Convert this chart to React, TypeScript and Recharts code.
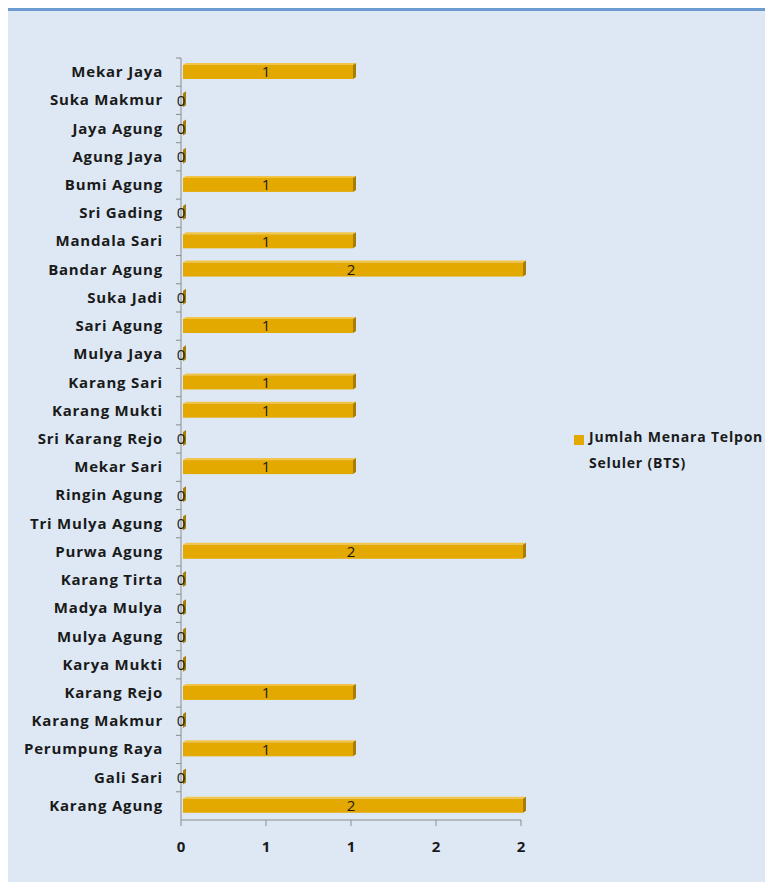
import { BarChart, Bar, XAxis, YAxis, LabelList } from "recharts";

const desa = [
  "Mekar Jaya", "Suka Makmur", "Jaya Agung", "Agung Jaya", "Bumi Agung", "Sri Gading",
  "Mandala Sari", "Bandar Agung", "Suka Jadi", "Sari Agung", "Mulya Jaya", "Karang Sari",
  "Karang Mukti", "Sri Karang Rejo", "Mekar Sari", "Ringin Agung", "Tri Mulya Agung",
  "Purwa Agung", "Karang  Tirta", "Madya Mulya", "Mulya Agung", "Karya Mukti", "Karang Rejo",
  "Karang Makmur", "Perumpung Raya", "Gali Sari", "Karang Agung",
];
const jumlahBts = [1, 0, 0, 0, 1, 0, 1, 2, 0, 1, 0, 1, 1, 0, 1, 0, 0, 2, 0, 0, 0, 0, 1, 0, 1, 0, 2];
const xTicks = [0, 0.5, 1, 1.5, 2];
const seriesName = ["Jumlah Menara Telpon", "Seluler (BTS)"];

const data = desa.map((name, i) => ({ name, bts: jumlahBts[i] }));

const FONT = "'Open Sans', sans-serif";
const AXIS_X = 173;
const BAND = 762 / desa.length;

function Bar3D(props: any) {
  const { x, y, width, height } = props;
  const fx = x + 2;
  const w = Math.max(width, 0);
  return (
    <g>
      <polygon points={`${fx},${y} ${fx + 3},${y - 2} ${fx + w + 3},${y - 2} ${fx + w},${y}`} fill="#f2c548" />
      <rect x={fx} y={y} width={w} height={height} fill="#e4a900" />
      <polygon points={`${fx + w},${y} ${fx + w + 3},${y - 2} ${fx + w + 3},${y + height - 2} ${fx + w},${y + height}`} fill="#a97d00" />
    </g>
  );
}

function YTick(props: any) {
  const { x, y, payload } = props;
  const ty = y - BAND / 2;
  return (
    <g>
      <line x1={AXIS_X - 5} y1={ty} x2={AXIS_X} y2={ty} stroke="#8c8c8c" />
      <text x={x} y={y} dy={5} textAnchor="end" fontFamily={FONT} fontWeight={700} fontSize={15} letterSpacing={0.8} fill="#1a1a1a">
        {payload.value}
      </text>
    </g>
  );
}

function XTick(props: any) {
  const { x, y, payload } = props;
  return (
    <g>
      <line x1={x} y1={y - 2} x2={x} y2={y - 8} stroke="#8c8c8c" />
      <text x={x} y={y + 24} textAnchor="middle" fontFamily={FONT} fontWeight={700} fontSize={15} fill="#1a1a1a">
        {Math.round(payload.value)}
      </text>
    </g>
  );
}

export default function App() {
  return (
    <div style={{ position: "absolute", width: 757, height: 871, overflow: "hidden", background: "#dde8f4", borderTop: "3px solid #6c9bd2" }}>
      <BarChart
        width={757}
        height={860}
        data={data}
        layout="vertical"
        barSize={14}
        margin={{ top: 47, right: 244, bottom: 21, left: 13 }}
      >
        <XAxis
          type="number"
          domain={[0, 2]}
          ticks={xTicks}
          tick={<XTick />}
          tickLine={false}
          axisLine={{ stroke: "#8c8c8c" }}
          height={30}
        />
        <YAxis
          type="category"
          dataKey="name"
          width={160}
          tick={<YTick />}
          tickLine={false}
          tickMargin={12}
          axisLine={{ stroke: "#8c8c8c" }}
          interval={0}
        />
        <Bar dataKey="bts" name={seriesName.join(" ")} shape={<Bar3D />} isAnimationActive={false}>
          <LabelList dataKey="bts" position="center" fontFamily={FONT} fontSize={15} fill="#1a1a1a" />
        </Bar>
      </BarChart>
      <div style={{ position: "absolute", left: 566, top: 420, display: "flex", alignItems: "flex-start", fontFamily: FONT, fontWeight: 700, fontSize: 14, letterSpacing: 0.8, color: "#1a1a1a", whiteSpace: "nowrap" }}>
        <div style={{ width: 10, height: 10, background: "#e4a900", marginTop: 4, marginRight: 5 }} />
        <div style={{ lineHeight: "26px", marginTop: -7 }}>
          {seriesName[0]}<br />{seriesName[1]}
        </div>
      </div>
    </div>
  );
}
